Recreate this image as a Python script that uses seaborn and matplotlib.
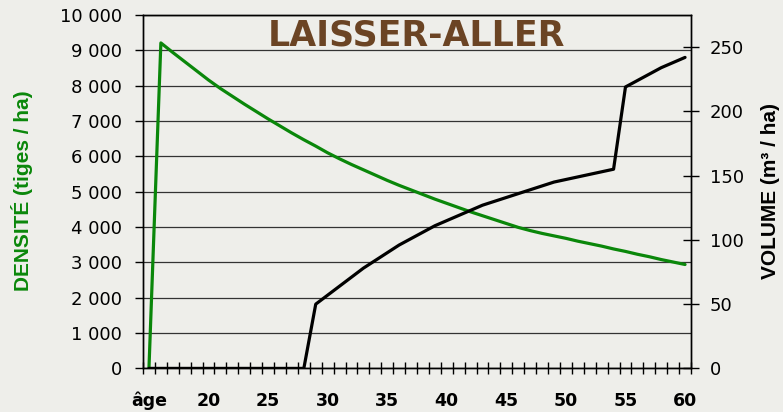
import numpy as np
import matplotlib
matplotlib.use("Agg")
import matplotlib.pyplot as plt
import seaborn as sns
from matplotlib.ticker import FuncFormatter, MultipleLocator, FixedLocator

# ages 15..60, one point per year
ages = list(range(15, 61))

# densité (tiges / ha)
densite = [0, 9210, 8940, 8680, 8420, 8160, 7920, 7700, 7480, 7270,
           7060, 6860, 6660, 6470, 6290, 6100, 5930, 5770, 5620, 5470,
           5320, 5180, 5050, 4920, 4790, 4670, 4550, 4430, 4320, 4210,
           4100, 3990, 3900, 3820, 3750, 3680, 3600, 3530, 3460, 3380,
           3310, 3230, 3160, 3080, 3010, 2940]

# volume (m3 / ha)
volume = [0, 0, 0, 0, 0, 0, 0, 0, 0, 0,
          0, 0, 0, 0, 50, 57, 64, 71, 78, 84,
          90, 96, 101, 106, 111, 115, 119, 123, 127, 130,
          133, 136, 139, 142, 145, 147, 149, 151, 153, 155,
          219, 224, 229, 234, 238, 242]

xtick_pos = [15, 20, 25, 30, 35, 40, 45, 50, 55, 60]
xtick_labels = ["âge", "20", "25", "30", "35", "40", "45", "50", "55", "60"]

GREEN = "#0a870a"
BROWN = "#6b4424"
BG = "#eeeeea"

sns.set_style("white")
plt.rcParams["font.family"] = ["DejaVu Sans"]

fig = plt.figure(figsize=(7.83, 4.12), dpi=100)
fig.patch.set_facecolor(BG)
ax = fig.add_axes([143 / 783, 1 - 368.4 / 412, 548 / 783, 353.4 / 412])
ax.set_facecolor("none")

sns.lineplot(x=ages, y=densite, ax=ax, color=GREEN, linewidth=2.3)

ax.set_xlim(14.5, 60.5)
ax.set_ylim(0, 10000)
ax.yaxis.set_major_locator(MultipleLocator(1000))
ax.yaxis.set_major_formatter(FuncFormatter(lambda v, p: f"{int(v):,}".replace(",", " ")))
ax.grid(axis="y", color="#333333", linewidth=0.9)
ax.grid(axis="x", visible=False)
ax.set_axisbelow(True)

# labels sit on a common baseline, like the original
ax.xaxis.set_major_locator(FixedLocator(xtick_pos))
ax.set_xticklabels(xtick_labels, fontsize=12.5, fontweight="bold", va="baseline")
ax.xaxis.set_minor_locator(FixedLocator(np.arange(14.5, 61, 1)))
ax.tick_params(axis="x", which="major", bottom=True, length=0, pad=27, labelcolor="black")
ax.tick_params(axis="x", which="minor", bottom=True, direction="inout", length=9, width=1, color="black")
ax.tick_params(axis="y", left=True, direction="out", length=6, width=1, color="black",
               labelsize=13, pad=9, labelcolor="black")
ax.set_xlabel("")
ax.set_ylabel("")

for s in ax.spines.values():
    s.set_color("black")
    s.set_linewidth(1)

ax2 = ax.twinx()
sns.lineplot(x=ages, y=volume, ax=ax2, color="black", linewidth=2.3)
ax2.set_ylim(0, 275)
ax2.yaxis.set_major_locator(MultipleLocator(50))
ax2.tick_params(axis="y", right=True, direction="inout", length=11, width=1, color="black",
                labelsize=13, pad=8, labelcolor="black")
ax2.grid(False)
ax2.set_ylabel("")
for s in ax2.spines.values():
    s.set_color("black")
    s.set_linewidth(1)

fig.text(22 / 783, 1 - 191 / 412, "DENSITÉ (tiges / ha)", rotation=90, ha="center", va="center",
         color=GREEN, fontsize=15, fontweight="bold", family=["Liberation Sans"])
fig.text(771 / 783, 1 - 191 / 412, "VOLUME (m³ / ha)", rotation=90, ha="center", va="center",
         color="black", fontsize=15, fontweight="bold", family=["Liberation Sans"])
fig.text(416 / 783, 1 - 35 / 412, "LAISSER-ALLER", ha="center", va="center",
         color=BROWN, fontsize=25, fontweight="bold", family=["DejaVu Sans"])

fig.savefig("out.png", dpi=100, facecolor=fig.get_facecolor())
